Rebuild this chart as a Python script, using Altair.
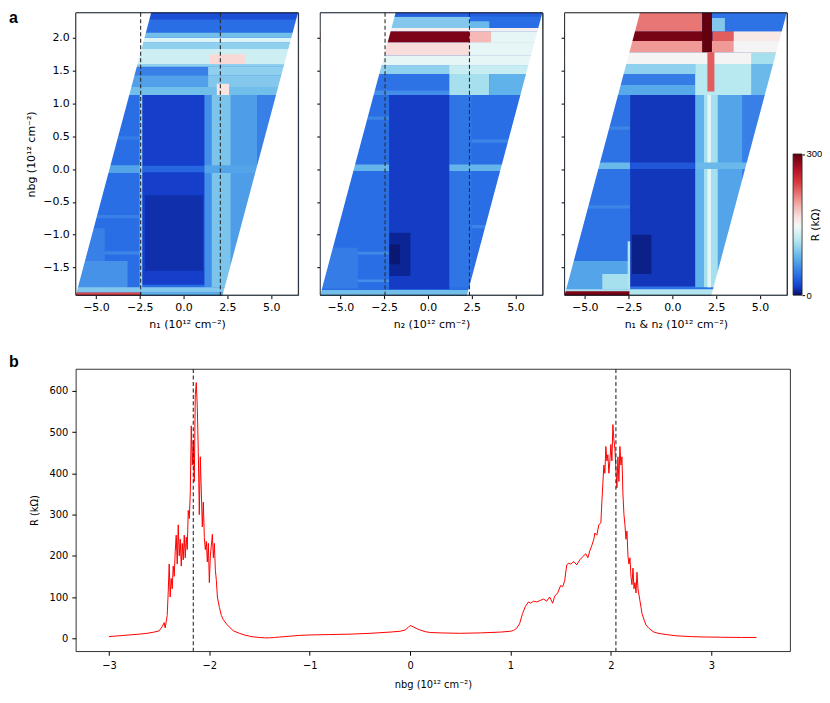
import altair as alt
import pandas as pd

# ---------------- colour map (R in kOhm) ----------------
cmap_pos = [0, 8, 18, 42, 80, 115, 145, 165, 195, 240, 270, 300]
cmap_col = ["#08105e", "#0c2596", "#153fca", "#2a6ee6", "#5fb2ea", "#b2e6ef",
            "#f0f9f9", "#fae3e1", "#f2a6a1", "#d9393c", "#ad1024", "#62000f"]
cbar_ticks = [0, 300]

# ---------------- panel a : axes ----------------
top_xdom = [-6.15, 6.55]
top_ydom = [-1.92, 2.38]
top_xticks = [-5.0, -2.5, 0.0, 2.5, 5.0]
top_yticks = [-1.5, -1.0, -0.5, 0.0, 0.5, 1.0, 1.5, 2.0]

# swept region (parallelogram) edges
edge_nbg = [-2.0, 2.5]
edge_left = [-6.23, -1.73]
edge_right = [2.15, 6.65]
mask_far = [-8.0, 8.0]

# heat-map patches: (n_lo, n_hi, nbg_lo, nbg_hi, R)
p1_patches = [
    (-7, 7, -2, 2.5, 42),
    (-7, -2.4, -1.3, -1.25, 55),
    (-7, -2.4, -0.75, -0.7, 52),
    (-7, -2.4, 0.45, 0.5, 50),
    (2.6, 7, -1.2, -1.15, 60),
    (2.6, 7, 0.6, 0.65, 62),
    (-7, -3.2, -1.82, -1.4, 62),
    (-7, -4.5, -1.4, -0.9, 52),
    (1.2, 1.6, -1.8, 1.13, 60),
    (1.6, 2.7, -1.8, 1.13, 92),
    (2.7, 4.2, -1.8, 1.13, 68),
    (4.2, 7, -1.8, 1.13, 52),
    (-7, 7, -0.06, 0.06, 72),
    (-2.36, 1.18, -1.76, 1.13, 18),
    (-2.2, 1.1, -1.55, -0.4, 12),
    (-2.36, 1.18, -0.05, 0.05, 38),
    (-2.5, -2.36, -1.85, 1.13, 105),
    (-7, 7, 1.13, 1.25, 88),
    (-7, 1.4, 1.25, 1.43, 70),
    (1.4, 7, 1.25, 1.43, 95),
    (-7, 1.4, 1.43, 1.56, 52),
    (1.4, 7, 1.43, 1.56, 100),
    (-7, 7, 1.56, 1.6, 100),
    (-7, 7, 1.6, 1.83, 128),
    (1.5, 3.5, 1.6, 1.75, 170),
    (-7, 7, 1.83, 1.93, 100),
    (-7, 7, 1.93, 2.0, 135),
    (-7, 7, 2.0, 2.08, 88),
    (-7, 7, 2.08, 2.28, 42),
    (-7, 7, 2.28, 2.5, 26),
    (1.9, 2.6, 1.13, 1.3, 165),
    (-7, 7, -1.88, -1.8, 95),
    (-7, -2.4, -2, -1.88, 235),
    (-2.4, 7, -2, -1.88, 80),
]
p2_patches = [
    (-7, 7, -2, 2.5, 42),
    (-7, -2.22, -1.72, -1.68, 60),
    (-7, -2.22, -1.3, -1.26, 58),
    (-7, -2.22, 0.75, 0.8, 55),
    (1.22, 7, 0.4, 0.45, 55),
    (1.22, 7, -0.9, -0.85, 55),
    (-7, -4, -1.82, -1.2, 50),
    (1.2, 2.5, -1.8, 1.13, 46),
    (-7, 7, -0.03, 0.07, 82),
    (-2.22, 1.22, -1.83, 1.13, 17),
    (-2.2, -1.0, -1.63, -0.97, 8),
    (-2.2, -1.6, -1.45, -1.15, 3),
    (-7, 7, -2, -1.84, 88),
    (-7, 1.22, 1.13, 1.2, 60),
    (-7, 1.22, 1.2, 1.45, 45),
    (1.22, 3.5, 1.13, 1.45, 110),
    (3.5, 7, 1.13, 1.45, 80),
    (-7, 7, 1.45, 1.58, 100),
    (1.22, 7, 1.45, 1.58, 125),
    (-7, 7, 1.58, 1.73, 140),
    (-7, 7, 1.73, 1.93, 168),
    (2.4, 7, 1.73, 1.93, 140),
    (-7, 2.37, 1.93, 2.1, 290),
    (2.37, 3.6, 1.93, 2.1, 185),
    (3.6, 7, 1.93, 2.1, 140),
    (-7, 7, 2.1, 2.15, 155),
    (-7, 2.4, 2.15, 2.32, 95),
    (2.4, 7, 2.15, 2.32, 42),
    (2.4, 3.5, 2.15, 2.25, 85),
    (-7, 7, 2.32, 2.5, 35),
]
p3_patches = [
    (-7, 7, -2, 2.5, 45),
    (-7, -2.41, -0.6, -0.55, 55),
    (-7, -2.41, 0.6, 0.65, 55),
    (-7, -2.45, -1.83, -1.4, 72),
    (-4.0, -2.45, -1.83, -1.6, 110),
    (1.3, 1.8, -1.8, 1.13, 80),
    (1.8, 2.6, -1.8, 1.13, 110),
    (2.0, 2.2, -1.8, 1.13, 140),
    (2.6, 4.0, -1.8, 1.13, 72),
    (4.0, 7, -1.8, 1.13, 52),
    (-7, 7, 0.0, 0.1, 85),
    (-2.41, 1.3, -1.79, 1.13, 15),
    (-2.3, -1.2, -1.6, -1.0, 6),
    (-2.41, 1.3, 0.0, 0.1, 30),
    (-2.55, -2.41, -1.83, -1.1, 115),
    (-7, 7, -2, -1.83, 115),
    (-7, -2.45, -2, -1.86, 290),
    (-7, 1.3, 1.13, 1.28, 75),
    (-7, 1.3, 1.28, 1.45, 50),
    (1.3, 7, 1.13, 1.6, 118),
    (4.5, 7, 1.13, 1.6, 85),
    (-7, 1.3, 1.45, 1.6, 100),
    (-7, 7, 1.6, 1.78, 150),
    (4.5, 7, 1.6, 1.78, 110),
    (-7, 7, 1.78, 1.95, 200),
    (3.5, 7, 1.78, 1.95, 150),
    (-7, 2.3, 1.95, 2.1, 292),
    (2.3, 3.5, 1.95, 2.1, 225),
    (3.5, 7, 1.95, 2.1, 160),
    (-7, 1.7, 2.1, 2.5, 215),
    (2.26, 7, 2.1, 2.5, 45),
    (2.26, 3.0, 2.1, 2.3, 95),
    (1.7, 2.26, 1.78, 2.5, 305),
    (2.0, 2.4, 1.18, 1.78, 225),
]
p1_dash = [-2.45, 2.1]
p2_dash = [-2.45, 2.37]

# ---------------- panel b : line ----------------
b_x = [-3.00, -2.90, -2.80, -2.70, -2.62, -2.55, -2.50, -2.47, -2.45, -2.44,
       -2.43, -2.42, -2.41, -2.40, -2.39, -2.38, -2.37, -2.36, -2.35, -2.34,
       -2.33, -2.32, -2.31, -2.30, -2.29, -2.28, -2.27, -2.26, -2.25, -2.24,
       -2.23, -2.22, -2.21, -2.20, -2.19, -2.18, -2.17, -2.16, -2.15, -2.14,
       -2.13, -2.12, -2.11, -2.10, -2.09, -2.08, -2.07, -2.06, -2.05, -2.04,
       -2.03, -2.02, -2.01, -2.00, -1.99, -1.98, -1.97, -1.96, -1.95, -1.94,
       -1.93, -1.92, -1.90, -1.88, -1.86, -1.83, -1.80, -1.76, -1.70, -1.65,
       -1.60, -1.55, -1.50, -1.45, -1.40, -1.35, -1.30, -1.20, -1.10, -1.00,
       -0.80, -0.60, -0.40, -0.20, -0.10, -0.05, -0.02, 0.00, 0.03, 0.06,
       0.10, 0.15, 0.20, 0.30, 0.50, 0.70, 0.90, 1.00, 1.03, 1.06,
       1.09, 1.12, 1.15, 1.18, 1.20, 1.23, 1.26, 1.30, 1.33, 1.36,
       1.39, 1.42, 1.44, 1.47, 1.50, 1.52, 1.54, 1.56, 1.58, 1.60,
       1.63, 1.66, 1.69, 1.72, 1.75, 1.77, 1.79, 1.81, 1.83, 1.84,
       1.86, 1.88, 1.90, 1.91, 1.92, 1.93, 1.94, 1.95, 1.96, 1.97,
       1.98, 1.99, 2.00, 2.01, 2.02, 2.03, 2.04, 2.05, 2.06, 2.07,
       2.08, 2.09, 2.10, 2.11, 2.12, 2.13, 2.14, 2.15, 2.16, 2.17,
       2.18, 2.19, 2.20, 2.21, 2.22, 2.23, 2.24, 2.25, 2.26, 2.27,
       2.28, 2.29, 2.30, 2.31, 2.33, 2.35, 2.38, 2.42, 2.47, 2.55,
       2.65, 2.80, 2.95, 3.10, 3.30, 3.45]
b_R = [4, 6, 8, 10, 12, 15, 18, 28, 38, 25,
       40, 55, 110, 180, 100, 145, 120, 175, 150, 210,
       250, 180, 275, 200, 240, 175, 230, 190, 250, 195,
       245, 215, 310, 290, 350, 515, 420, 480, 380, 590,
       620, 560, 450, 300, 440, 355, 270, 330, 245, 215,
       235, 185, 230, 135, 200, 225, 252, 195, 230, 165,
       140, 100, 75, 55, 45, 35, 27, 18, 12, 8,
       5, 3, 2, 1, 1, 2, 3, 5, 7, 8,
       9, 10, 12, 15, 17, 20, 26, 31, 28, 24,
       20, 16, 14, 13, 12, 13, 15, 17, 19, 24,
       35, 60, 78, 88, 85, 90, 88, 92, 95, 90,
       100, 85, 102, 110, 128, 125, 140, 178, 182, 180,
       186, 178, 190, 198, 205, 195, 212, 225, 240, 255,
       250, 275, 280, 330, 375, 420, 400, 465, 430, 445,
       400, 430, 470, 430, 518, 480, 460, 410, 365, 440,
       380, 465, 420, 440, 350, 300, 275, 240, 260, 200,
       180, 195, 150, 130, 170, 120, 135, 110, 160, 120,
       105, 90, 75, 60, 45, 32, 24, 16, 12, 9,
       6, 4, 3, 2.5, 2, 2]
b_dash = [-2.16, 2.05]
b_xdom = [-3.33, 3.785]
b_ydom = [-31.5, 653]
b_xticks = [-3, -2, -1, 0, 1, 2, 3]
b_yticks = [0, 100, 200, 300, 400, 500, 600]

TOPFONT = "DejaVu Sans"
BOTFONT = "DejaVu Sans Condensed, Liberation Sans Narrow, DejaVu Sans"
UNIT = "(10¹² cm⁻²)"

cscale = alt.Scale(domain=cmap_pos, range=cmap_col, interpolate="rgb", clamp=True)
PW, PH = 223, 283
one_row = pd.DataFrame({"t": ["a"]})


def panel(patches, dashes, xtitle, first):
    xs = alt.Scale(domain=top_xdom, nice=False, zero=False)
    ys = alt.Scale(domain=top_ydom, nice=False, zero=False)
    xa = alt.Axis(values=top_xticks, format=".1f", title=xtitle, labelFont=TOPFONT,
                  titleFont=TOPFONT, labelFontSize=11, titleFontSize=11,
                  titleFontWeight="normal", tickSize=3.5, labelPadding=3,
                  titlePadding=6, domain=False, grid=False, tickColor="#000",
                  labelColor="#000", titleColor="#000", labelFlush=False)
    if first:
        ya = alt.Axis(values=top_yticks, format=".1f", title="nbg " + UNIT,
                      labelFont=TOPFONT, titleFont=TOPFONT, labelFontSize=11,
                      titleFontSize=11, titleFontWeight="normal", tickSize=3.5,
                      labelPadding=3, titlePadding=6, domain=False, grid=False,
                      tickColor="#000", labelColor="#000", titleColor="#000")
    else:
        ya = alt.Axis(values=top_yticks, title=None, labels=False, tickSize=3.5,
                      domain=False, grid=False, tickColor="#000")
    df = pd.DataFrame(patches, columns=["n0", "n1", "b0", "b1", "R"])
    heat = alt.Chart(df).mark_rect(clip=True, strokeWidth=0).encode(
        x=alt.X("n0:Q", scale=xs, axis=xa), x2="n1:Q",
        y=alt.Y("b0:Q", scale=ys, axis=ya), y2="b1:Q",
        color=alt.Color("R:Q", scale=cscale, legend=None),
    )
    mdf = pd.DataFrame({"b": edge_nbg, "left": edge_left, "right": edge_right,
                        "lo": [mask_far[0]] * 2, "hi": [mask_far[1]] * 2})
    ml = alt.Chart(mdf).mark_area(orient="horizontal", color="white", clip=True).encode(
        y=alt.Y("b:Q", scale=ys, axis=ya), x=alt.X("lo:Q", scale=xs, axis=xa),
        x2="left:Q")
    mr = alt.Chart(mdf).mark_area(orient="horizontal", color="white", clip=True).encode(
        y=alt.Y("b:Q", scale=ys, axis=ya), x=alt.X("right:Q", scale=xs, axis=xa),
        x2="hi:Q")
    layers = [heat, ml, mr]
    if dashes:
        ddf = pd.DataFrame({"n": dashes})
        layers.append(alt.Chart(ddf).mark_rule(strokeDash=[4, 2.5], color="#2b2b2b",
                                               strokeWidth=1.1).encode(
            x=alt.X("n:Q", scale=xs, axis=xa)))
    layers.append(alt.Chart(one_row).mark_rect(filled=False, stroke="#000",
                                               strokeWidth=0.8).encode(
        x=alt.value(0), x2=alt.value(PW), y=alt.value(0), y2=alt.value(PH)))
    if first:
        layers.append(alt.Chart(one_row).mark_text(
            font="Liberation Sans", fontSize=16, fontWeight="bold", align="left",
            baseline="top", color="#000").encode(
            text="t:N", x=alt.value(-67), y=alt.value(-3)))
    return alt.layer(*layers).properties(width=PW, height=PH)


p1 = panel(p1_patches, p1_dash, "n₁ " + UNIT, True)
p2 = panel(p2_patches, p2_dash, "n₂ " + UNIT, False)
p3 = panel(p3_patches, [], "n₁ & n₂ " + UNIT, False)

# colour bar
grad = alt.Gradient(gradient="linear", x1=0, x2=0, y1=1, y2=0,
                    stops=[alt.GradientStop(color=c, offset=p / 300.0)
                           for p, c in zip(cmap_pos, cmap_col)])
cb_df = pd.DataFrame({"lo": [cbar_ticks[0]], "hi": [cbar_ticks[-1]]})
cbar = alt.Chart(cb_df).mark_rect(color=grad, stroke="#222", strokeWidth=0.8).encode(
    y=alt.Y("lo:Q", scale=alt.Scale(domain=[0, 600], nice=False, zero=False),
            axis=alt.Axis(orient="right", values=cbar_ticks, title="R (kΩ)",
                          titleAngle=270, titleX=13, titleY=212, titleAlign="center",
                          titleBaseline="middle", titleFont=TOPFONT, titleFontSize=10.5,
                          titleFontWeight="normal", labelFont="Liberation Sans",
                          labelFontSize=9.5, tickSize=2.5, labelPadding=1.5,
                          domain=False, grid=False, tickColor="#000", labelColor="#000",
                          titleColor="#000")),
    y2="hi:Q", x=alt.value(0), x2=alt.value(9),
).properties(width=9, height=PH, view=alt.ViewBackground(strokeOpacity=0))

top_row = alt.hconcat(p1, p2, alt.hconcat(p3, cbar, spacing=4), spacing=16)

# bottom panel
bdf = pd.DataFrame({"x": b_x, "R": b_R})
bxs = alt.Scale(domain=b_xdom, nice=False, zero=False)
bys = alt.Scale(domain=b_ydom, nice=False, zero=False)
bxa = alt.Axis(values=b_xticks, format="d", title="nbg " + UNIT, labelFont=BOTFONT,
               titleFont=BOTFONT, labelFontSize=11, titleFontSize=11,
               titleFontWeight="normal", tickSize=4, labelPadding=4, titlePadding=8,
               domain=False, grid=False, tickColor="#000", labelColor="#000",
               titleColor="#000")
bya = alt.Axis(values=b_yticks, format="d", title="R (kΩ)", labelFont=BOTFONT,
               titleFont=BOTFONT, labelFontSize=11, titleFontSize=11,
               titleFontWeight="normal", tickSize=4, labelPadding=4, titlePadding=10,
               domain=False, grid=False, tickColor="#000", labelColor="#000",
               titleColor="#000")
line = alt.Chart(bdf).mark_line(color="#ff0000", strokeWidth=1, clip=True).encode(
    x=alt.X("x:Q", scale=bxs, axis=bxa), y=alt.Y("R:Q", scale=bys, axis=bya))
brule = alt.Chart(pd.DataFrame({"x": b_dash})).mark_rule(
    strokeDash=[4, 2.5], color="#2b2b2b", strokeWidth=1.1).encode(
    x=alt.X("x:Q", scale=bxs, axis=bxa))
btext = alt.Chart(pd.DataFrame({"t": ["b"]})).mark_text(
    font="Liberation Sans", fontSize=16, fontWeight="bold", align="left",
    baseline="top", color="#000").encode(text="t:N", x=alt.value(-67), y=alt.value(-15))
bottom = alt.layer(line, brule, btext).properties(width=716, height=283)

chart = alt.vconcat(top_row, bottom, spacing=23).properties(
    padding=0, background="white").configure_view(stroke="#000", strokeWidth=0.8)

chart.save("out.html", embed_options={"renderer": "svg", "actions": False})
